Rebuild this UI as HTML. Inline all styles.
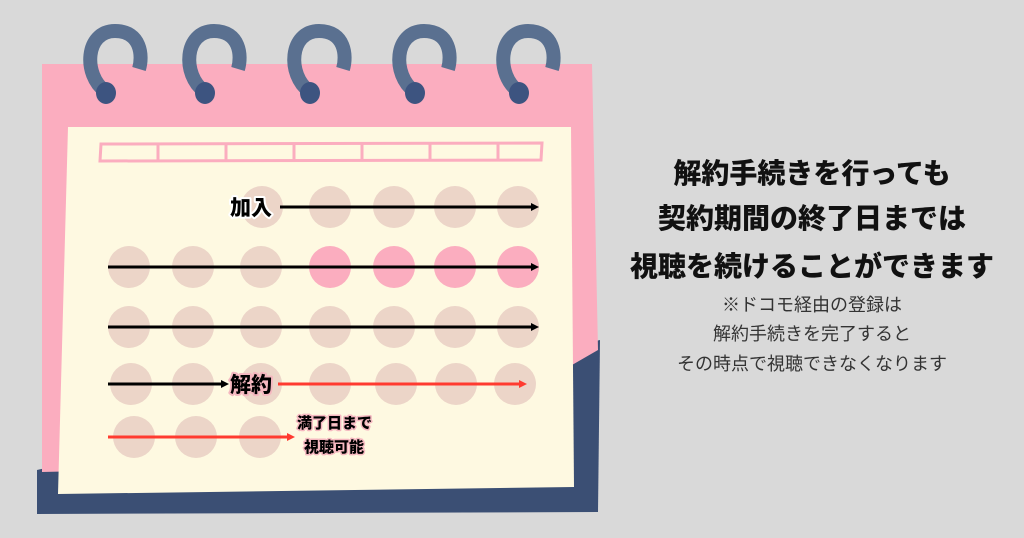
<!DOCTYPE html>
<html><head><meta charset="utf-8"><style>
html,body{margin:0;padding:0;}
body{width:1024px;height:538px;background:#d9d9d9;position:relative;overflow:hidden;font-family:"Liberation Sans","Noto Sans CJK JP",sans-serif;}
.t{position:absolute;left:612px;width:400px;text-align:center;color:#111;}
.b{font-weight:900;font-size:28px;}
.s{font-size:18px;color:#333;}
</style></head><body>
<svg width="1024" height="538" style="position:absolute;left:0;top:0">
<defs>
<g id="ring">
<path d="M-8,30 C-30,14 -28,-30 2,-30 C28,-30 30,-5 26,8" fill="none" stroke="#5a7090" stroke-width="14" stroke-linecap="butt"/>
<ellipse cx="-7" cy="32" rx="10" ry="11" fill="#3d5480"/>
</g>
<marker id="ab" markerWidth="8" markerHeight="8" refX="5" refY="4" orient="auto" markerUnits="userSpaceOnUse"><path d="M0,0 L8,4 L0,8 Z" fill="#000"/></marker>
<marker id="ar" markerWidth="8" markerHeight="8" refX="5" refY="4" orient="auto" markerUnits="userSpaceOnUse"><path d="M0,0 L8,4 L0,8 Z" fill="#ff3b30"/></marker>
</defs>
<polygon points="37,470 600,340 598,512 37,514" fill="#3b4f74"/>
<path d="M42,64 L592,64 L598,350 L572,365 L572,460 L42,472 Z" fill="#fbadbf"/>
<polygon points="68,127 571,127 574,487 58,494" fill="#fef9e1"/>
<g transform="translate(113,61)"><use href="#ring"/></g>
<g transform="translate(212,61)"><use href="#ring"/></g>
<g transform="translate(317,61)"><use href="#ring"/></g>
<g transform="translate(422,61)"><use href="#ring"/></g>
<g transform="translate(526,61)"><use href="#ring"/></g>
<g fill="none" stroke="#fbadbf" stroke-width="3">
<polygon points="101,144 542,143 541,160 100,161"/>
<line x1="158" y1="144" x2="158" y2="160"/><line x1="226" y1="144" x2="226" y2="160"/>
<line x1="294" y1="144" x2="294" y2="160"/><line x1="362" y1="144" x2="362" y2="160"/>
<line x1="430" y1="144" x2="430" y2="160"/><line x1="498" y1="144" x2="498" y2="160"/>
</g>
<g fill="#ecd5c8">
<ellipse cx="262" cy="207" rx="21" ry="21"/><ellipse cx="330" cy="207" rx="21" ry="21"/><ellipse cx="394" cy="207" rx="21" ry="21"/><ellipse cx="455" cy="207" rx="21" ry="21"/><ellipse cx="518" cy="207" rx="21" ry="21"/>
<ellipse cx="129" cy="267" rx="21" ry="21"/><ellipse cx="193" cy="267" rx="21" ry="21"/><ellipse cx="261" cy="267" rx="21" ry="21"/>
<ellipse cx="129" cy="327" rx="21" ry="21"/><ellipse cx="193" cy="327" rx="21" ry="21"/><ellipse cx="261" cy="327" rx="21" ry="21"/><ellipse cx="330" cy="327" rx="21" ry="21"/><ellipse cx="394" cy="327" rx="21" ry="21"/><ellipse cx="455" cy="327" rx="21" ry="21"/><ellipse cx="518" cy="327" rx="21" ry="21"/>
<ellipse cx="131" cy="384" rx="21" ry="21"/><ellipse cx="193" cy="384" rx="21" ry="21"/><ellipse cx="261" cy="384" rx="21" ry="21"/><ellipse cx="330" cy="384" rx="21" ry="21"/><ellipse cx="396" cy="384" rx="21" ry="21"/><ellipse cx="456" cy="384" rx="21" ry="21"/><ellipse cx="515" cy="384" rx="21" ry="21"/>
<ellipse cx="134" cy="437" rx="21" ry="21"/><ellipse cx="196" cy="437" rx="21" ry="21"/><ellipse cx="260" cy="437" rx="21" ry="21"/>
</g>
<g fill="#fbadbf">
<ellipse cx="330" cy="267" rx="21" ry="21"/><ellipse cx="394" cy="267" rx="21" ry="21"/><ellipse cx="455" cy="267" rx="21" ry="21"/><ellipse cx="518" cy="267" rx="21" ry="21"/>
</g>
<g stroke-width="3">
<line x1="280" y1="207" x2="536" y2="207" stroke="#000" marker-end="url(#ab)"/>
<line x1="108" y1="267" x2="536" y2="267" stroke="#000" marker-end="url(#ab)"/>
<line x1="108" y1="327" x2="536" y2="327" stroke="#000" marker-end="url(#ab)"/>
<line x1="108" y1="384" x2="226" y2="384" stroke="#000" marker-end="url(#ab)"/>
<line x1="278" y1="384" x2="524" y2="384" stroke="#ff3b30" marker-end="url(#ar)"/>
<line x1="108" y1="437" x2="292" y2="437" stroke="#ff3b30" marker-end="url(#ar)"/>
</g>
<g font-family="Liberation Sans, Noto Sans CJK JP, sans-serif" font-weight="900" fill="#000" stroke-linejoin="round" paint-order="stroke">
<text x="230" y="215" font-size="21" stroke="#fff" stroke-width="4">加入</text>
<text x="230" y="392" font-size="21" stroke="#f5b8c0" stroke-width="4">解約</text>
<text x="297" y="428" font-size="15" stroke="#f5b8c0" stroke-width="3">満了日まで</text>
<text x="304" y="452" font-size="15" stroke="#f5b8c0" stroke-width="3">視聴可能</text>
</g>
</svg>
<div class="t b" style="top:152px">解約手続きを行っても</div>
<div class="t b" style="top:197px">契約期間の終了日までは</div>
<div class="t b" style="top:245px">視聴を続けることができます</div>
<div class="t s" style="top:291px">※ドコモ経由の登録は</div>
<div class="t s" style="top:320px">解約手続きを完了すると</div>
<div class="t s" style="top:350px">その時点で視聴できなくなります</div>
</body></html>
